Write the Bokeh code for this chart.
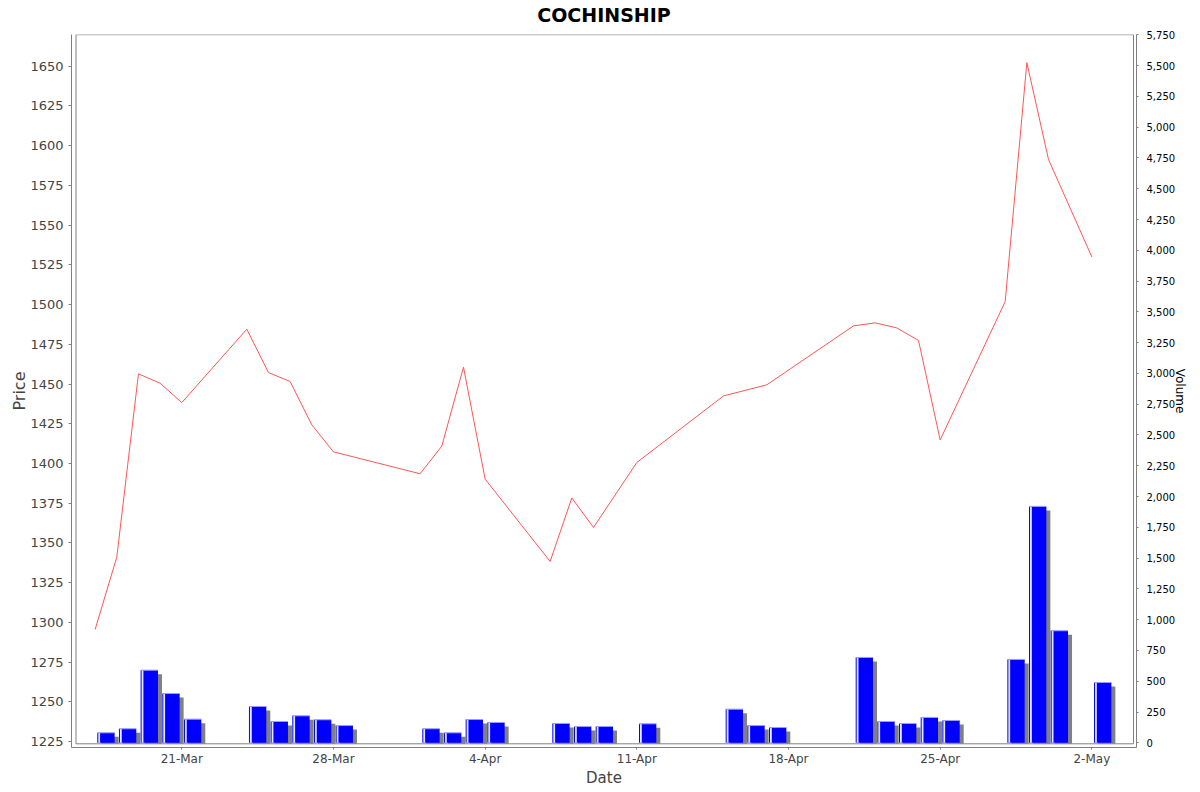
import pandas as pd
from bokeh.plotting import figure
from bokeh.models import (Range1d, LinearAxis, FixedTicker, SingleIntervalTicker,
                          NumeralTickFormatter, ColumnDataSource)
from bokeh.embed import file_html
from bokeh.resources import INLINE

# ---- data ----
title_text = "COCHINSHIP"
dates = ["2025-03-17", "2025-03-18", "2025-03-19", "2025-03-20", "2025-03-21",
         "2025-03-24", "2025-03-25", "2025-03-26", "2025-03-27", "2025-03-28",
         "2025-04-01", "2025-04-02", "2025-04-03", "2025-04-04",
         "2025-04-07", "2025-04-08", "2025-04-09", "2025-04-11",
         "2025-04-15", "2025-04-16", "2025-04-17",
         "2025-04-21", "2025-04-22", "2025-04-23", "2025-04-24", "2025-04-25",
         "2025-04-28", "2025-04-29", "2025-04-30", "2025-05-02"]
prices = [1295.5, 1341.0, 1456.4, 1450.5, 1438.3,
          1484.5, 1457.2, 1451.6, 1424.3, 1407.3,
          1393.5, 1410.9, 1460.6, 1390.1,
          1338.3, 1378.3, 1359.7, 1400.6,
          1442.5, 1446.0, 1449.5,
          1486.6, 1488.5, 1485.3, 1477.4, 1414.8,
          1501.9, 1652.3, 1591.3, 1530.0]
volumes = [81, 114, 590, 400, 192,
           295, 173, 219, 187, 140,
           114, 81, 189, 165,
           157, 132, 132, 154,
           273, 140, 124,
           693, 173, 157, 206, 181,
           677, 1920, 910, 490]
tick_dates = ["2025-03-21", "2025-03-28", "2025-04-04", "2025-04-11",
              "2025-04-18", "2025-04-25", "2025-05-02"]
tick_labels = ["21-Mar", "28-Mar", "4-Apr", "11-Apr", "18-Apr", "25-Apr", "2-May"]

base = pd.Timestamp("2025-03-17")
xs = [(pd.Timestamp(d) - base).days for d in dates]
tick_x = [(pd.Timestamp(d) - base).days for d in tick_dates]

# ---- geometry ----
W, H = 1200, 792
ML, MR, MT, MB = 71, 64, 34, 45
FW, FH = W - ML - MR, H - MT - MB
x0, x1 = -1.09, 48.06
p0, p1 = 1221.2, 1670.0
v0, v1 = -38.2, 5752.5
dpx = (x1 - x0) / FW          # days per pixel
vpx = (v1 - v0) / FH          # volume per pixel
ppx = (p1 - p0) / FH          # price per pixel

p = figure(width=W, height=H, x_range=Range1d(x0, x1), y_range=Range1d(p0, p1),
           output_backend="svg", toolbar_location=None,
           min_border_left=ML, min_border_right=MR, min_border_top=MT, min_border_bottom=MB)
p.extra_y_ranges = {"vol": Range1d(v0, v1)}
p.outline_line_color = None
p.background_fill_color = "white"
p.border_fill_color = "white"
p.grid.grid_line_color = None

xa = p.below[0]
ya = p.left[0]

# title: drawn as the label of a tick-less axis above the frame
ta = LinearAxis(ticker=FixedTicker(ticks=[]), axis_label=title_text)
ta.axis_line_color = None
ta.major_tick_line_color = None
ta.minor_tick_line_color = None
ta.major_tick_out = 0
ta.major_tick_in = 0
ta.minor_tick_out = 0
ta.minor_tick_in = 0
ta.major_label_standoff = 0
ta.major_label_text_font_size = "1px"
ta.axis_label_standoff = 9
ta.axis_label_text_font = "DejaVu Sans"
ta.axis_label_text_font_size = "19px"
ta.axis_label_text_font_style = "bold"
ta.axis_label_text_color = "black"
p.add_layout(ta, "above")

# bars: shadow, body, highlight, top edge
left = [x + 0.1 for x in xs]
right = [x + 0.9 for x in xs]
src = ColumnDataSource(dict(
    left=left, right=right, top=volumes,
    sl=[l + 4 * dpx for l in left], sr=[r + 4 * dpx for r in right],
    st=[v - 4 * vpx for v in volumes],
    hl=[l + 1 * dpx for l in left], hr=[l + 2.8 * dpx for l in left],
))
p.quad(left="sl", right="sr", top="st", bottom=-8, source=src, y_range_name="vol",
       fill_color="#808080", line_color=None)
p.quad(left="left", right="right", top="top", bottom=0, source=src, y_range_name="vol",
       fill_color="#0000ff", line_color=None)
p.quad(left="hl", right="hr", top="top", bottom=0, source=src, y_range_name="vol",
       fill_color="#e4e4ff", line_color=None)
p.segment(x0="left", y0="top", x1="right", y1="top", source=src, y_range_name="vol",
          line_color="#9a9aff", line_width=1)

# price line
p.line(xs, prices, line_color="#ff5555", line_width=1)

# inner plot outline
p.quad(left=x0 + 4.5 * dpx, right=x1 - 3 * dpx, top=p1 - 0.2 * ppx, bottom=p0 + 3.7 * ppx,
       fill_color=None, line_color="#808080", line_width=1)

# left axis
ya.ticker = SingleIntervalTicker(interval=25)
ya.axis_label = "Price"
ya.axis_label_text_font = "DejaVu Sans"
ya.axis_label_text_font_size = "16px"
ya.axis_label_text_font_style = "normal"
ya.axis_label_text_color = "#444444"
ya.axis_label_standoff = -2
ya.major_label_text_font = "DejaVu Sans"
ya.major_label_text_font_size = "13px"
ya.major_label_text_color = "#444444"
ya.major_label_standoff = 4
ya.major_tick_out = 3
ya.major_tick_in = 0
ya.minor_tick_line_color = None
ya.axis_line_color = "#808080"
ya.major_tick_line_color = "#808080"

# right axis
ra = LinearAxis(y_range_name="vol", ticker=SingleIntervalTicker(interval=250),
                formatter=NumeralTickFormatter(format="0,0"))
ra.axis_label = "Volume"
ra.axis_label_text_font = "DejaVu Sans"
ra.axis_label_text_font_size = "12px"
ra.axis_label_text_font_style = "normal"
ra.axis_label_text_color = "black"
ra.axis_label_standoff = -5
ra.major_label_text_font = "DejaVu Sans"
ra.major_label_text_font_size = "10px"
ra.major_label_text_color = "black"
ra.major_label_standoff = 6
ra.major_tick_out = 2
ra.major_tick_in = 0
ra.minor_tick_line_color = None
ra.axis_line_color = "#808080"
ra.major_tick_line_color = "#808080"
p.add_layout(ra, "right")

# bottom axis
xa.ticker = FixedTicker(ticks=tick_x)
xa.major_label_overrides = {t: l for t, l in zip(tick_x, tick_labels)}
xa.axis_label = "Date"
xa.axis_label_text_font = "DejaVu Sans"
xa.axis_label_text_font_size = "15px"
xa.axis_label_text_font_style = "normal"
xa.axis_label_text_color = "#444444"
xa.axis_label_standoff = 0
xa.major_label_text_font = "DejaVu Sans"
xa.major_label_text_font_size = "12px"
xa.major_label_text_color = "#444444"
xa.major_label_standoff = 2
xa.major_tick_out = 2
xa.major_tick_in = 0
xa.minor_tick_line_color = None
xa.axis_line_color = "#808080"
xa.major_tick_line_color = "#808080"

open("out.html", "w").write(file_html(p, INLINE))
